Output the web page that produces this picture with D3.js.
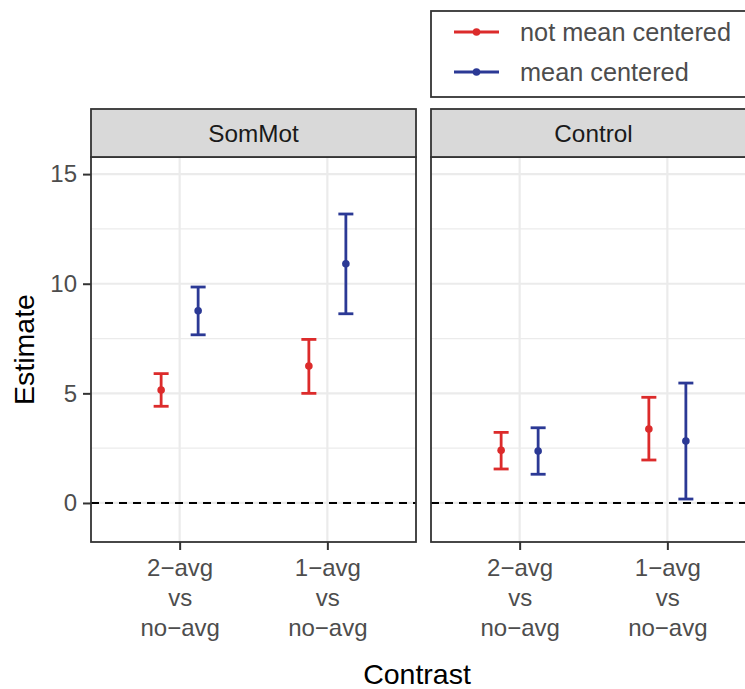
<!DOCTYPE html>
<html>
<head>
<meta charset="utf-8">
<script src="https://cdn.jsdelivr.net/npm/d3@7"></script>
<style>
	body { margin: 0; background: #fff; }
	text { font-family: "Liberation Sans", Arial, sans-serif; }
</style>
</head>
<body>
<svg id="chart" width="745" height="689"></svg>
<script>
// data
const panels		= ['SomMot', 'Control'];
const contrasts		= ['2−avg vs no−avg', '1−avg vs no−avg'];
const seriesNames	= ['not mean centered', 'mean centered'];
const seriesColors	= ['#dc2b2b', '#2b3995'];

const rowPanel		= ['SomMot', 'SomMot', 'SomMot', 'SomMot', 'Control', 'Control', 'Control', 'Control'];
const rowContrast	= ['2−avg vs no−avg', '2−avg vs no−avg', '1−avg vs no−avg', '1−avg vs no−avg', '2−avg vs no−avg', '2−avg vs no−avg', '1−avg vs no−avg', '1−avg vs no−avg'];
const rowSeries		= ['not mean centered', 'mean centered', 'not mean centered', 'mean centered', 'not mean centered', 'mean centered', 'not mean centered', 'mean centered'];
const estimates		= [5.15, 8.77, 6.25, 10.91, 2.40, 2.37, 3.37, 2.83];
const lowers		= [4.41, 7.67, 5.00, 8.63, 1.55, 1.31, 1.96, 0.18];
const uppers		= [5.90, 9.85, 7.46, 13.18, 3.22, 3.43, 4.82, 5.47];

const yMajor		= [0, 5, 10, 15];
const yMinor		= [2.5, 7.5, 12.5];

let rows = estimates.map((e, i) => ({ panel: rowPanel[i], contrast: rowContrast[i], series: rowSeries[i], est: e, lo: lowers[i], hi: uppers[i] }));

let svg = d3.select('#chart');

let panelTop = 157, panelBottom = 542, panelW = 325, stripTop = 109;
let panelLeft = d3.scalePoint().domain(panels).range([91, 431]);

let y	= d3.scaleLinear().domain([-1.78, 15.78]).range([panelBottom, panelTop]);
let x	= d3.scalePoint().domain(contrasts).range([0, panelW]).padding(0.6);
let dx	= d3.scalePoint().domain(seriesNames).range([-18.5, 18.5]);
let color = d3.scaleOrdinal().domain(seriesNames).range(seriesColors);

panels.forEach((p) => {
	let g = svg.append('g').attr('transform', 'translate(' + panelLeft(p) + ',0)');

	// grid
	g.selectAll('.minor').data(yMinor).join('line')
		.attr('x1', 0).attr('x2', panelW).attr('y1', (d) => y(d)).attr('y2', (d) => y(d))
		.attr('stroke', '#ebebeb').attr('stroke-width', 1.2);
	g.selectAll('.major').data(yMajor).join('line')
		.attr('x1', 0).attr('x2', panelW).attr('y1', (d) => y(d)).attr('y2', (d) => y(d))
		.attr('stroke', '#ebebeb').attr('stroke-width', 2.2);
	g.selectAll('.vgrid').data(contrasts).join('line')
		.attr('x1', (d) => x(d)).attr('x2', (d) => x(d)).attr('y1', panelTop).attr('y2', panelBottom)
		.attr('stroke', '#ebebeb').attr('stroke-width', 2.2);

	// zero line
	g.append('line').attr('x1', 0).attr('x2', panelW).attr('y1', y(0)).attr('y2', y(0))
		.attr('stroke', '#000').attr('stroke-width', 1.9).attr('stroke-dasharray', '8,6');

	// error bars
	let bars = g.selectAll('.bar').data(rows.filter((r) => r.panel === p)).join('g')
		.attr('transform', (d) => 'translate(' + (x(d.contrast) + dx(d.series)) + ',0)');
	bars.append('line').attr('y1', (d) => y(d.lo)).attr('y2', (d) => y(d.hi))
		.attr('stroke', (d) => color(d.series)).attr('stroke-width', 2.8);
	bars.append('line').attr('x1', -7.5).attr('x2', 7.5).attr('y1', (d) => y(d.lo)).attr('y2', (d) => y(d.lo))
		.attr('stroke', (d) => color(d.series)).attr('stroke-width', 2.8);
	bars.append('line').attr('x1', -7.5).attr('x2', 7.5).attr('y1', (d) => y(d.hi)).attr('y2', (d) => y(d.hi))
		.attr('stroke', (d) => color(d.series)).attr('stroke-width', 2.8);
	bars.append('circle').attr('cy', (d) => y(d.est)).attr('r', 3.8).attr('fill', (d) => color(d.series));

	// border + strip
	g.append('rect').attr('x', 0).attr('y', panelTop).attr('width', panelW).attr('height', panelBottom - panelTop)
		.attr('fill', 'none').attr('stroke', '#333').attr('stroke-width', 1.8);
	g.append('rect').attr('x', 0).attr('y', stripTop).attr('width', panelW).attr('height', panelTop - stripTop)
		.attr('fill', '#d9d9d9').attr('stroke', '#333').attr('stroke-width', 1.8);
	g.append('text').attr('x', panelW / 2).attr('y', (stripTop + panelTop) / 2).attr('dy', '0.35em')
		.attr('text-anchor', 'middle').style('font-size', '24.3px').attr('fill', '#1a1a1a').text(p);

	// x axis
	let xa = g.append('g').attr('transform', 'translate(0,' + panelBottom + ')')
		.call(d3.axisBottom(x).tickSize(8).tickPadding(0).tickFormat(''));
	xa.select('.domain').remove();
	xa.selectAll('.tick line').attr('stroke', '#333').attr('stroke-width', 2);
	xa.selectAll('.tick').each(function (d) {
		let t = d3.select(this).append('text').attr('fill', '#4d4d4d').attr('text-anchor', 'middle').style('font-size', '24px');
		d.split(' ').forEach((w, i) => t.append('tspan').attr('x', 0).attr('y', 34 + i * 30).text(w));
	});
});

// y axis
let ya = svg.append('g').attr('transform', 'translate(' + panelLeft(panels[0]) + ',0)')
	.call(d3.axisLeft(y).tickValues(yMajor).tickSize(8).tickPadding(6));
ya.select('.domain').remove();
ya.selectAll('.tick line').attr('stroke', '#333').attr('stroke-width', 2);
ya.selectAll('.tick text').attr('fill', '#4d4d4d').style('font-size', '24px').attr('font-family', null);

// titles
svg.append('text').attr('transform', 'translate(34,' + ((panelTop + panelBottom) / 2) + ') rotate(-90)')
	.attr('text-anchor', 'middle').style('font-size', '28.5px').attr('fill', '#000').text('Estimate');
svg.append('text').attr('x', 417).attr('y', 684).attr('text-anchor', 'middle')
	.style('font-size', '28.5px').attr('fill', '#000').text('Contrast');

// legend
let legend = svg.append('g');
legend.append('rect').attr('x', 431).attr('y', 11).attr('width', 330).attr('height', 86)
	.attr('fill', '#fff').attr('stroke', '#333').attr('stroke-width', 1.8);
let items = legend.selectAll('.item').data(seriesNames).join('g')
	.attr('transform', (d, i) => 'translate(0,' + (32 + i * 40) + ')');
items.append('line').attr('x1', 454).attr('x2', 499).attr('stroke', (d) => color(d)).attr('stroke-width', 2.8);
items.append('circle').attr('cx', 476.5).attr('r', 3.8).attr('fill', (d) => color(d));
items.append('text').attr('x', 520).attr('dy', '0.35em').style('font-size', '25.3px').attr('fill', '#4d4d4d').text((d) => d);
</script>
</body>
</html>
